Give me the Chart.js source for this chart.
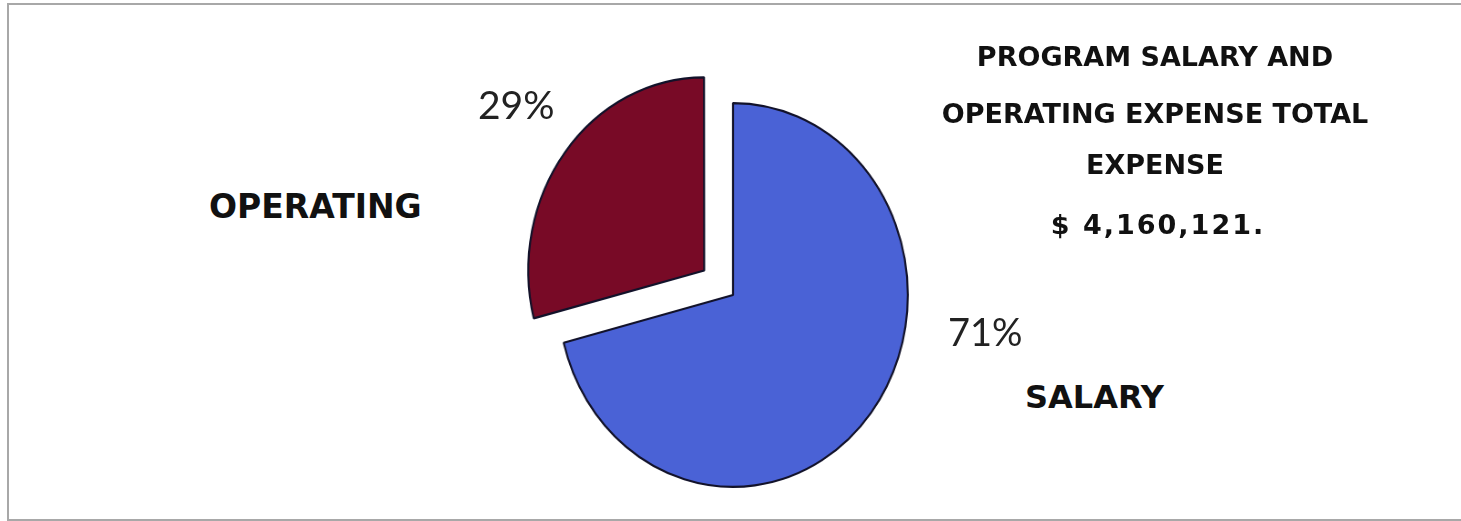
<!DOCTYPE html>
<html>
<head>
<meta charset="utf-8">
<script src="https://cdn.jsdelivr.net/npm/chart.js@4.4.1/dist/chart.umd.min.js"></script>
<style>
    html, body { margin: 0; padding: 0; background: #fff; }
    #page { position: relative; width: 1461px; height: 521px; overflow: hidden; background: #fff; }
    #frame {
        position: absolute; left: 7px; top: 3px; width: 1470px; height: 514px;
        border-left: 2px solid #a8a8a8; border-top: 2px solid #a8a8a8; border-bottom: 2px solid #a8a8a8;
    }
    #pieWrap {
        position: absolute; left: 460px; top: 22px; width: 546px; height: 546px;
        transform: scaleX(0.911); transform-origin: 273px 273px;
    }
    .cap { position: absolute; font-family: "Comic Sans MS", "DejaVu Sans", sans-serif; font-weight: bold; color: #111; white-space: nowrap; }
    .pct { position: absolute; font-family: Lato, "Open Sans", sans-serif; font-weight: 400; color: #222; white-space: nowrap; }
    #title { position: absolute; left: 900px; width: 510px; text-align: center; }
    #title div { font-size: 27px; line-height: 27px; }
</style>
</head>
<body>
<div id="page">
    <div id="frame"></div>
    <div id="pieWrap"><canvas id="pieChart" width="546" height="546"></canvas></div>

    <div id="title" class="cap">
        <div id="t1" style="position:absolute; left:0; right:0; top:43px;"></div>
        <div id="t2" style="position:absolute; left:0; right:0; top:100px;"></div>
        <div id="t3" style="position:absolute; left:0; right:0; top:151px;"></div>
        <div id="t4" style="position:absolute; left:6px; right:0; top:211px; letter-spacing:2px;"></div>
    </div>

    <div id="nameOperating" class="cap" style="left:209px; top:190px; font-size:33px; line-height:33px;"></div>
    <div id="nameSalary" class="cap" style="left:1025px; top:381px; font-size:32px; line-height:32px;"></div>
    <div id="pctOperating" class="pct" style="left:478px; top:85px; font-size:39px; line-height:39px;"></div>
    <div id="pctSalary" class="pct" style="left:948px; top:312px; font-size:38px; line-height:38px;"></div>
</div>

<script>
// expense split, percent of total
const categories = ["SALARY", "OPERATING"]
const shares = [71, 29]
const totalExpense = 4160121
const titleLines = ["PROGRAM SALARY AND", "OPERATING EXPENSE TOTAL", "EXPENSE"]

const sliceColors = ["#4a62d6", "#780a26"]

window.addEventListener("load", (e) => {
    // title block
    titleLines.forEach((line, i) => {
        document.querySelector("#t" + (i + 1)).textContent = line
    })
    document.querySelector("#t4").textContent = "$ " + totalExpense.toLocaleString("en-US") + "."

    // slice labels come straight from the data
    document.querySelector("#nameSalary").textContent = categories[0]
    document.querySelector("#nameOperating").textContent = categories[1]
    document.querySelector("#pctSalary").textContent = shares[0] + "%"
    document.querySelector("#pctOperating").textContent = shares[1] + "%"

    createPie()
})

function createPie() {
    new Chart("pieChart", {
        type: "pie",
        data: {
            labels: categories,
            datasets: [{
                data: shares,
                backgroundColor: sliceColors,
                borderColor: "#12122a",
                borderWidth: 2.2,
                // operating slice pulled out (arc offset is drawn at 1/4)
                offset: [0, 160],
                hoverOffset: 0
            }]
        },
        options: {
            responsive: false,
            animation: false,
            events: [],
            layout: { padding: 0 },
            plugins: {
                legend: { display: false },
                tooltip: { enabled: false }
            }
        }
    });
}
</script>
</body>
</html>
